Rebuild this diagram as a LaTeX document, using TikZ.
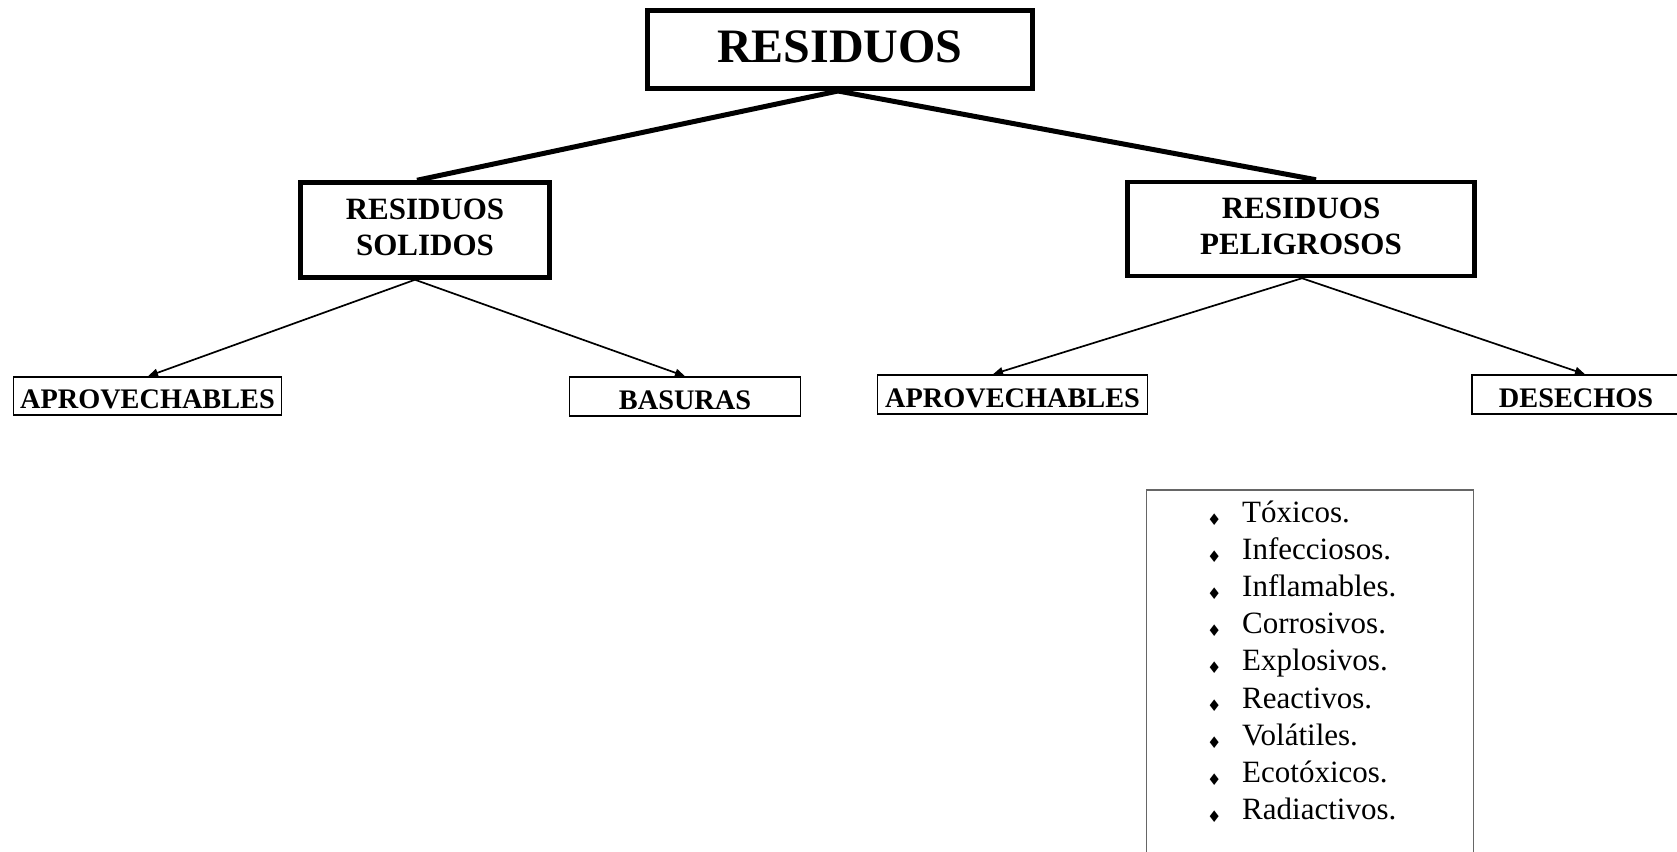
\documentclass[tikz,border=0pt]{standalone}
\usepackage{fontspec}
\setmainfont{Liberation Serif}
\newfontfamily\dejavu{DejaVu Sans}
\usetikzlibrary{arrows.meta}
\tikzset{
  bigbox/.style={draw, line width=5pt, inner sep=0pt, align=center, text height=33pt, text depth=7pt, font=\bfseries\fontsize{48}{52}\selectfont},
  midbox/.style={draw, line width=4.5pt, inner sep=0pt, align=center, font=\bfseries\fontsize{31}{37}\selectfont},
  smallbox/.style={draw, line width=1.6pt, inner sep=0pt, text height=25pt, text depth=0pt, font=\bfseries\fontsize{28.3}{32}\selectfont},
  thick link/.style={line width=5pt},
  thin arrow/.style={line width=1.7pt, -{Triangle[length=10pt,width=8pt]}},
  listframe/.style={draw=black!60, line width=1.5pt, inner sep=0pt},
  listitem/.style={anchor=base west, inner sep=0pt, font=\fontsize{31}{37}\selectfont}
}
\newcommand{\bul}{\makebox[35pt][l]{\raisebox{-3pt}{\dejavu\fontsize{16}{16}\selectfont ♦}}}
\newcommand{\dn}{\rule[-5pt]{0pt}{5pt}}
\begin{document}
\begin{tikzpicture}[x=1pt,y=1pt]
\useasboundingbox[fill=white] (0,0) rectangle (1677,-851);

\node[bigbox, minimum width=385pt, minimum height=78pt] (top) at (840,-49.5) {RESIDUOS};
\node[midbox, minimum width=249pt, minimum height=95pt] (sol) at (425,-230) {RESIDUOS\\[-1pt]SOLIDOS\dn};
\node[midbox, minimum width=347pt, minimum height=94pt] (pel) at (1301,-229) {RESIDUOS\\[-1pt]PELIGROSOS\dn};

\node[smallbox, minimum width=268pt, minimum height=38pt] (ap1) at (147.5,-396) {APROVECHABLES};
\node[smallbox, minimum width=231pt, minimum height=39pt] (bas) at (685,-396.5) {BASURAS};
\node[smallbox, minimum width=270pt, minimum height=39pt] (ap2) at (1012.5,-394.5) {APROVECHABLES};
\node[smallbox, minimum width=208pt, minimum height=39pt] (des) at (1576,-394.5) {DESECHOS};

\draw[thick link] ([xshift=-2pt]top.south) -- ([xshift=-8pt]sol.north);
\draw[thick link] ([xshift=-2pt]top.south) -- ([xshift=15pt]pel.north);

\draw[thin arrow] ([xshift=-10pt]sol.south) -- ([xshift=0.5pt]ap1.north);
\draw[thin arrow] ([xshift=-10pt]sol.south) -- (bas.north);
\draw[thin arrow] ([xshift=1pt]pel.south) -- ([xshift=-19.5pt]ap2.north);
\draw[thin arrow] ([xshift=1pt]pel.south) -- ([xshift=9pt]des.north);

\node[listframe, anchor=north west, minimum width=327pt, minimum height=500pt] (lista) at (1145.75,-489) {};
\foreach \t [count=\i] in {Tóxicos., Infecciosos., Inflamables., Corrosivos., Explosivos., Reactivos., Volátiles., Ecotóxicos., Radiactivos.}
  \node[listitem] (item\i) at (1207,{-522.5-37.1*(\i-1)}) {\bul\t};
\end{tikzpicture}
\end{document}
